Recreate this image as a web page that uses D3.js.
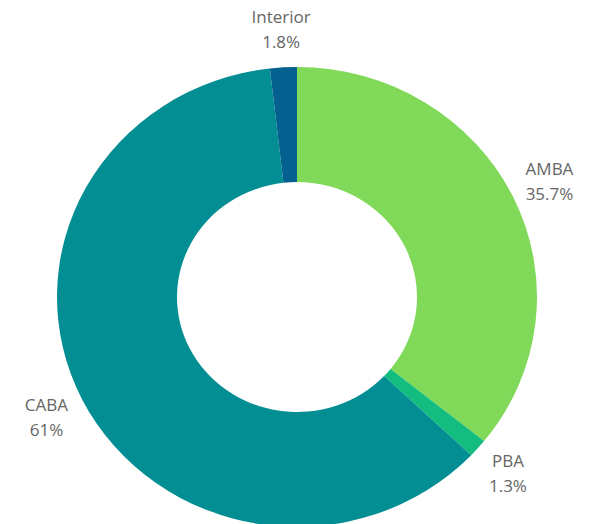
<!DOCTYPE html>
<html>
<head>
<meta charset="utf-8">
<script src="https://cdn.jsdelivr.net/npm/d3@7"></script>
<style>
  body { margin: 0; background: #fff; }
  svg { display: block; }
  .lbl { font-family: "Open Sans", sans-serif; font-size: 17px; fill: #666; }
</style>
</head>
<body>
<script>
var categories = ["AMBA", "PBA", "CABA", "Interior"];
var values = [35.7, 1.3, 61, 1.8];
var pctLabels = ["35.7%", "1.3%", "61%", "1.8%"];
var colors = ["#80d958", "#13bd80", "#038e93", "#04608f"];

var w = 593, h = 524;
var cx = 297, cy = 297;
var rOuter = 240, rInner = 120;
var squash = 0.958; // chart is a bit flattened vertically

var svg = d3.select("body").append("svg")
  .attr("width", w)
  .attr("height", h);

var data = categories.map(function(c, i) {
  return { name: c, value: values[i], pct: pctLabels[i], color: colors[i] };
});

var pie = d3.pie()
  .sort(null)
  .value(function(d) { return d.value; });

var arc = d3.arc()
  .innerRadius(rInner)
  .outerRadius(rOuter);

var labelArc = d3.arc()
  .innerRadius(280)
  .outerRadius(280);

var slices = pie(data);

var g = svg.append("g")
  .attr("transform", "translate(" + cx + "," + cy + ") scale(1," + squash + ")");

g.selectAll("path")
  .data(slices)
  .enter()
  .append("path")
  .attr("d", arc)
  .attr("fill", function(d) { return d.data.color; });

//labels
var labels = svg.append("g")
  .attr("transform", "translate(" + cx + "," + cy + ")");

var lg = labels.selectAll(".lblg")
  .data(slices)
  .enter()
  .append("g")
  .attr("transform", function(d) {
    var c = labelArc.centroid(d);
    return "translate(" + c[0] + "," + (c[1] * squash) + ")";
  });

lg.append("text")
  .attr("class", "lbl")
  .attr("text-anchor", "middle")
  .attr("y", -6)
  .text(function(d) { return d.data.name; });

lg.append("text")
  .attr("class", "lbl")
  .attr("text-anchor", "middle")
  .attr("y", 19)
  .text(function(d) { return d.data.pct; });
</script>
</body>
</html>
